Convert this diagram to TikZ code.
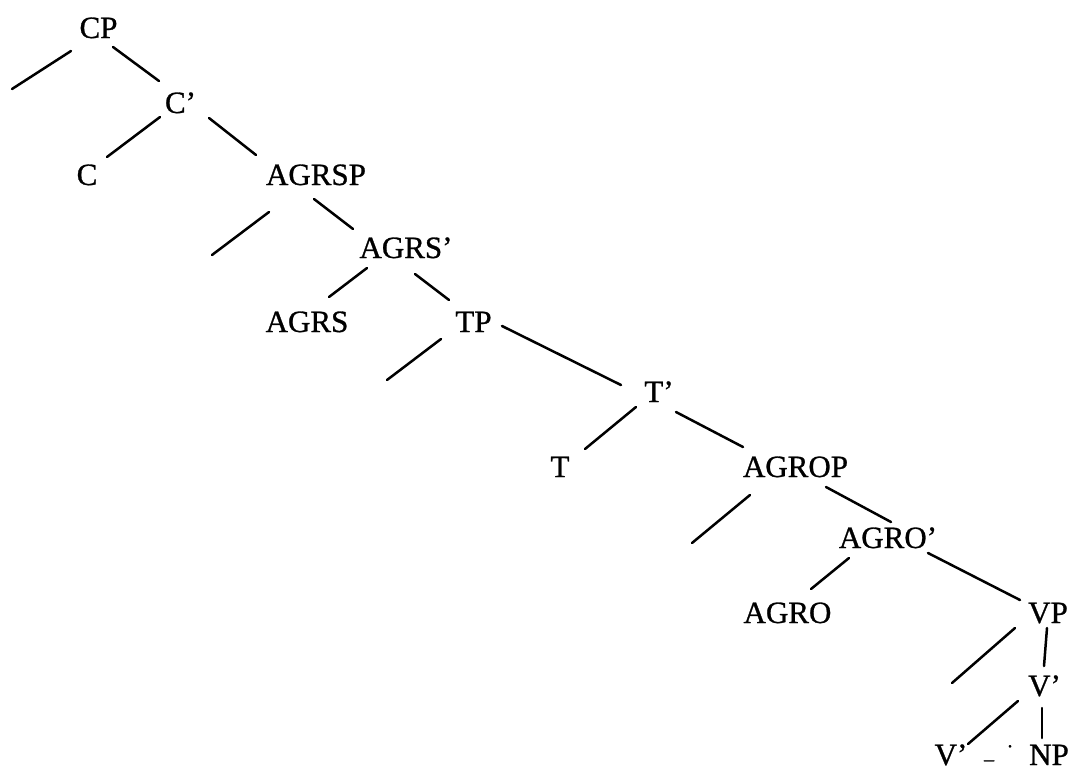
\documentclass[tikz,border=0pt]{standalone}
\usepackage{fontspec}
\setmainfont{Liberation Serif}
\newfontfamily\scanfont{Liberation Serif}[FakeBold=0.9]
\begin{document}
\begin{tikzpicture}[x=1pt,y=-1pt,
  lbl/.style={inner sep=0pt, outer sep=0pt, anchor=base, font=\scanfont\fontsize{31}{31}\selectfont},
  branch/.style={line width=2.5pt, line cap=round},
  speck/.style={inner sep=0pt, outer sep=0pt, anchor=center, font=\scanfont\fontsize{20}{20}\selectfont}]
\useasboundingbox (0,0) rectangle (1071,771);
% nodes (base anchors)
\node[lbl] (CP)    at (98.5,38)  {CP};
\node[lbl] (Cb)    at (180.5,113) {C’};
\node[lbl] (C)     at (87,185)   {C};
\node[lbl] (AGRSP) at (316,185)  {AGRSP};
\node[lbl] (AGRSb) at (406,258)  {AGRS’};
\node[lbl] (AGRS)  at (307,332)  {AGRS};
\node[lbl] (TP)    at (473.5,332) {TP};
\node[lbl] (Tb)    at (659,402)  {T’};
\node[lbl] (T)     at (560,477)  {T};
\node[lbl] (AGROP) at (795.5,477) {AGROP};
\node[lbl] (AGROb) at (888,548)  {AGRO’};
\node[lbl] (AGRO)  at (787.5,623) {AGRO};
\node[lbl] (VP)    at (1048,623) {VP};
\node[lbl] (Vb)    at (1044.5,696) {V’};
\node[lbl] (V)     at (951,765)  {V’};
\node[lbl] (NP)    at (1049,765) {NP};
\node[speck] (dash) at (989,760) {\_};
\node[speck] (dot)  at (1010,749) {·};
% free ends of empty branches
\coordinate (e1) at (12,89);
\coordinate (e2) at (212,255);
\coordinate (e3) at (387,380);
\coordinate (e4) at (692,543);
\coordinate (e5) at (952,683);
% branches
\draw[branch] ([shift={(-27.5,13)}]CP.base) -- (e1);
\draw[branch] ([shift={(14.5,9)}]CP.base) -- ([shift={(-21.5,-32)}]Cb.base);
\draw[branch] ([shift={(-20.5,4)}]Cb.base) -- ([shift={(20,-28)}]C.base);
\draw[branch] ([shift={(28.5,5)}]Cb.base) -- ([shift={(-60,-30)}]AGRSP.base);
\draw[branch] ([shift={(-47,27)}]AGRSP.base) -- (e2);
\draw[branch] ([shift={(-2,14)}]AGRSP.base) -- ([shift={(-53,-29)}]AGRSb.base);
\draw[branch] ([shift={(-39,10)}]AGRSb.base) -- ([shift={(22,-35)}]AGRS.base);
\draw[branch] ([shift={(9,16)}]AGRSb.base) -- ([shift={(-24.5,-32)}]TP.base);
\draw[branch] ([shift={(-32.5,7)}]TP.base) -- (e3);
\draw[branch] ([shift={(28.5,-6)}]TP.base) -- ([shift={(-38,-17)}]Tb.base);
\draw[branch] ([shift={(-23,5)}]Tb.base) -- ([shift={(25,-28)}]T.base);
\draw[branch] ([shift={(17,10)}]Tb.base) -- ([shift={(-52.5,-30)}]AGROP.base);
\draw[branch] ([shift={(-45.5,18)}]AGROP.base) -- (e4);
\draw[branch] ([shift={(30.5,10)}]AGROP.base) -- ([shift={(3,-26)}]AGROb.base);
\draw[branch] ([shift={(-39,10)}]AGROb.base) -- ([shift={(23.5,-34)}]AGRO.base);
\draw[branch] ([shift={(40,5)}]AGROb.base) -- ([shift={(-28,-23)}]VP.base);
\draw[branch] ([shift={(-33,5)}]VP.base) -- (e5);
\draw[branch] ([shift={(-1,5)}]VP.base) -- ([shift={(-0.5,-30)}]Vb.base);
\draw[branch] ([shift={(-26.5,5)}]Vb.base) -- ([shift={(17,-21)}]V.base);
\draw[branch] ([shift={(-2.5,12)}]Vb.base) -- ([shift={(-7,-27)}]NP.base);
\end{tikzpicture}
\end{document}
